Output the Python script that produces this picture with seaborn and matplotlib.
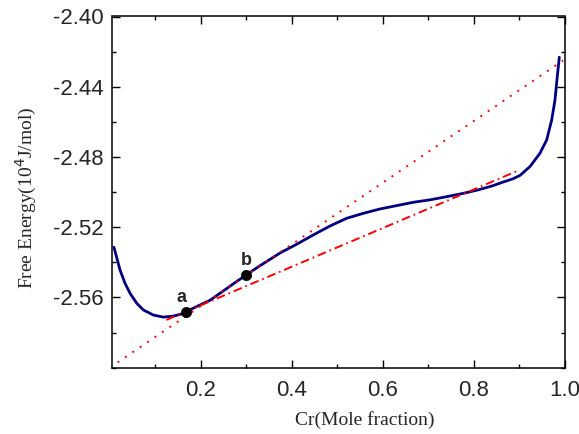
import matplotlib
matplotlib.use("Agg")
import matplotlib.pyplot as plt
import seaborn as sns
import pandas as pd
from matplotlib.ticker import MultipleLocator, FixedLocator, FixedFormatter

# ---- data ----
cr_x = [0.010, 0.0232, 0.0342, 0.0452, 0.0599, 0.0744, 0.0963, 0.1183, 0.1402, 0.1587,
        0.168, 0.1988, 0.2208, 0.250, 0.275, 0.300, 0.330, 0.3744, 0.411, 0.4475,
        0.4842, 0.5208, 0.5573, 0.594, 0.6306, 0.667, 0.7037, 0.7403, 0.7768, 0.810,
        0.840, 0.865, 0.885, 0.9012, 0.923, 0.945, 0.9598, 0.9708, 0.978, 0.983, 0.9875]
free_energy = [-2.5314, -2.5443, -2.5519, -2.5576, -2.5633, -2.5671, -2.5700, -2.5712,
               -2.5706, -2.5694, -2.5681, -2.5643, -2.5616, -2.5563, -2.5517, -2.5472,
               -2.5420, -2.5347, -2.5297, -2.5244, -2.5193, -2.5149, -2.5121, -2.5096,
               -2.5077, -2.5058, -2.5044, -2.5026, -2.5007, -2.4987, -2.4965, -2.4942,
               -2.4925, -2.4905, -2.4855, -2.4779, -2.4703, -2.4589, -2.4476, -2.4343,
               -2.4232]

tangent_b_x = [0.018, 0.996]
tangent_b_y = [-2.597, -2.425]
common_tangent_x = [0.125, 0.895]
common_tangent_y = [-2.5728, -2.488]

point_labels = ["a", "b"]
point_x = [0.168, 0.300]
point_y = [-2.5681, -2.5472]

x_ticks = [0.2, 0.4, 0.6, 0.8, 1.0]
x_tick_labels = ["0.2", "0.4", "0.6", "0.8", "1.0"]
y_ticks = [-2.56, -2.52, -2.48, -2.44, -2.40]
y_tick_labels = ["-2.56", "-2.52", "-2.48", "-2.44", "-2.40"]

sns.set_theme(style="ticks")
plt.rcParams['font.family'] = ['Liberation Sans', 'DejaVu Sans']

fig = plt.figure(figsize=(5.79, 4.34), dpi=100)
ax = fig.add_axes([111.7/579, 1-367.7/434, (565-111.7)/579, (367.7-16.5)/434])

curve_df = pd.DataFrame({"x": cr_x, "y": free_energy})
sns.lineplot(data=curve_df, x="x", y="y", ax=ax, color="#000080", lw=2.0, sort=False, zorder=3)

sns.lineplot(x=tangent_b_x, y=tangent_b_y, ax=ax, color="red", lw=1.4,
             linestyle=(0, (1, 3.6)), zorder=4)
sns.lineplot(x=common_tangent_x, y=common_tangent_y, ax=ax, color="red", lw=1.4,
             linestyle=(0, (4.5, 2, 0.9, 2)), zorder=4)

sns.scatterplot(x=point_x, y=point_y, ax=ax, color="black", s=55, edgecolor="black",
                linewidth=0.5, zorder=5)
for lab, px, py, dx in zip(point_labels, point_x, point_y, [-3.5, 0]):
    ax.annotate(lab, (px, py), xytext=(dx, 7), textcoords="offset points",
                ha="center", va="baseline", fontsize=13, fontweight="bold",
                family=["Liberation Sans", "DejaVu Sans"])

ax.set_xlim(0.005, 1.0)
ax.set_ylim(-2.60, -2.40)
ax.xaxis.set_major_locator(FixedLocator(x_ticks))
ax.xaxis.set_major_formatter(FixedFormatter(x_tick_labels))
ax.xaxis.set_minor_locator(MultipleLocator(0.1))
ax.yaxis.set_major_locator(FixedLocator(y_ticks))
ax.yaxis.set_major_formatter(FixedFormatter(y_tick_labels))
ax.yaxis.set_minor_locator(MultipleLocator(0.02))

ax.tick_params(which="both", direction="in", top=True, right=True, width=1.0, color="black")
ax.tick_params(which="major", length=5.8)
ax.tick_params(which="minor", length=3.2)
ax.tick_params(axis="x", which="major", labelsize=16, pad=8.5)
ax.tick_params(axis="y", which="major", labelsize=16, pad=6)
for sp in ax.spines.values():
    sp.set_visible(True)
    sp.set_linewidth(1.1)
    sp.set_color("black")

ax.set_xlabel("Cr(Mole fraction)", family=["Liberation Serif", "DejaVu Serif"], fontsize=14)
ax.set_ylabel("Free Energy(10$^4$J/mol)", family=["Liberation Serif", "DejaVu Serif"], fontsize=14)
ax.xaxis.set_label_coords(0.559, -0.124)
ax.yaxis.set_label_coords(-0.161, 0.485)

fig.savefig("out.png", dpi=100)
